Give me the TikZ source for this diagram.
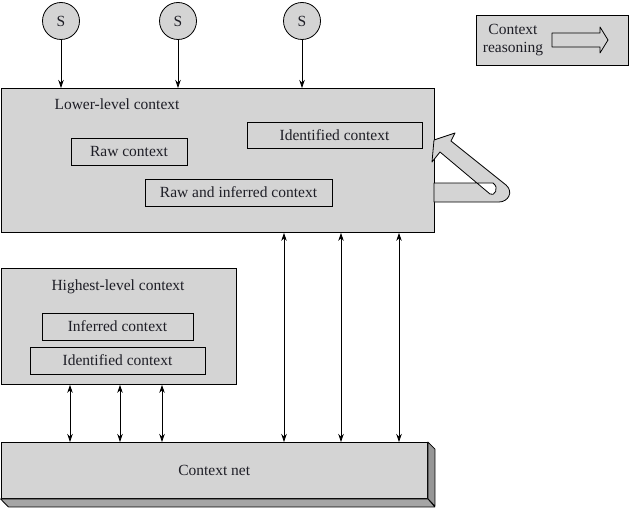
\documentclass[tikz,border=0pt]{standalone}
\usepackage{fontspec}
\setmainfont{Liberation Serif}
\usetikzlibrary{arrows.meta,calc}
\definecolor{boxgray}{RGB}{212,212,212}
\definecolor{sidegray}{RGB}{150,150,150}
\definecolor{botgray}{RGB}{165,165,165}
\definecolor{txt}{RGB}{30,30,38}
\begin{document}
\begin{tikzpicture}[x=1pt,y=-1pt,
  font=\fontsize{15.5}{17.5}\selectfont, text=txt,
  panel/.style={draw=black, line width=0.9pt, fill=boxgray, anchor=north west, inner sep=0pt},
  inbox/.style={draw=black, line width=0.8pt, fill=boxgray, inner sep=0pt},
  title/.style={inner sep=0pt},
  sensor/.style={circle, draw=black, fill=boxgray, minimum size=37pt, inner sep=0pt, line width=0.8pt},
  arr/.style={line width=0.75pt, -{Stealth[length=8pt,width=5.5pt]}},
  dbl/.style={line width=0.75pt, {Stealth[length=8pt,width=5.5pt]}-{Stealth[length=8pt,width=5.5pt]}},
  face/.style={draw=black, line width=0.8pt, line join=round}]
\useasboundingbox (0,0) rectangle (631,508);

% sensors
\node[sensor] (s1) at (61,21) {S};
\node[sensor] (s2) at (178,21) {S};
\node[sensor] (s3) at (302,21) {S};

% lower-level context
\node[panel, minimum width=433.5pt, minimum height=144pt] (lower) at (0.5,88) {};
\node[title] (lowert) at (117,104) {Lower-level context};
\node[inbox, minimum width=116pt, minimum height=27pt] (raw) at (129,151.5) {Raw context};
\node[inbox, minimum width=175pt, minimum height=26pt] (ident) at (334.5,135) {Identified context};
\node[inbox, minimum width=187pt, minimum height=27pt] (rawinf) at (238.5,192.5) {Raw and inferred context};

% feedback (context reasoning) arrow
\path[face, fill=boxgray, even odd rule]
  (434,202) -- (499,202) .. controls (508,202) and (514,192) .. (506,185)
  -- (451,141) -- (455,133) -- (434,140) -- (432,162) -- (440,152)
  -- (490,194) .. controls (494,197) and (500,188) .. (493,183)
  -- (434,183) -- cycle;

% highest-level context
\node[panel, minimum width=235.5pt, minimum height=116pt] (high) at (0.5,268) {};
\node[title] (hight) at (118,287) {Highest-level context};
\node[inbox, minimum width=151pt, minimum height=27pt] (inf) at (117.5,326.5) {Inferred context};
\node[inbox, minimum width=175pt, minimum height=27pt] (ident2) at (117.5,360.5) {Identified context};

% context net (3D slab)
\node[panel, minimum width=426.5pt, minimum height=56pt] (net) at (0.5,442) {};
\path[face, fill=sidegray] (net.north east) -- ++(7,7) -- ++(0,57) -- (net.south east) -- cycle;
\path[face, fill=botgray] (net.south west) -- (net.south east) -- ++(7,8) -- ++(-426.5,0) -- cycle;
\node[title] (nett) at (net.center) {Context net};

% sensor arrows
\draw[arr] (s1) -- (s1 |- lower.north);
\draw[arr] (s2) -- (s2 |- lower.north);
\draw[arr] (s3) -- (s3 |- lower.north);

% double arrows
\foreach \xx in {69.5,119.5,161.5}
  \draw[dbl] ([xshift=\xx pt]high.south west) -- ([xshift=\xx pt]net.north west);
\foreach \xx in {283.5,340.5,398.5}
  \draw[dbl] ([xshift=\xx pt]lower.south west) -- ([xshift=\xx pt]net.north west);

% legend
\node[panel, line width=0.8pt, minimum width=152pt, minimum height=50pt] (legend) at (476,15) {};
\node[title, align=center] (legt) at (513,40) {Context\\reasoning};
\path[face] (552,33) -- (600,33) -- (600,27) -- (608,40) -- (600,53) -- (600,47) -- (552,47) -- cycle;
\end{tikzpicture}
\end{document}
